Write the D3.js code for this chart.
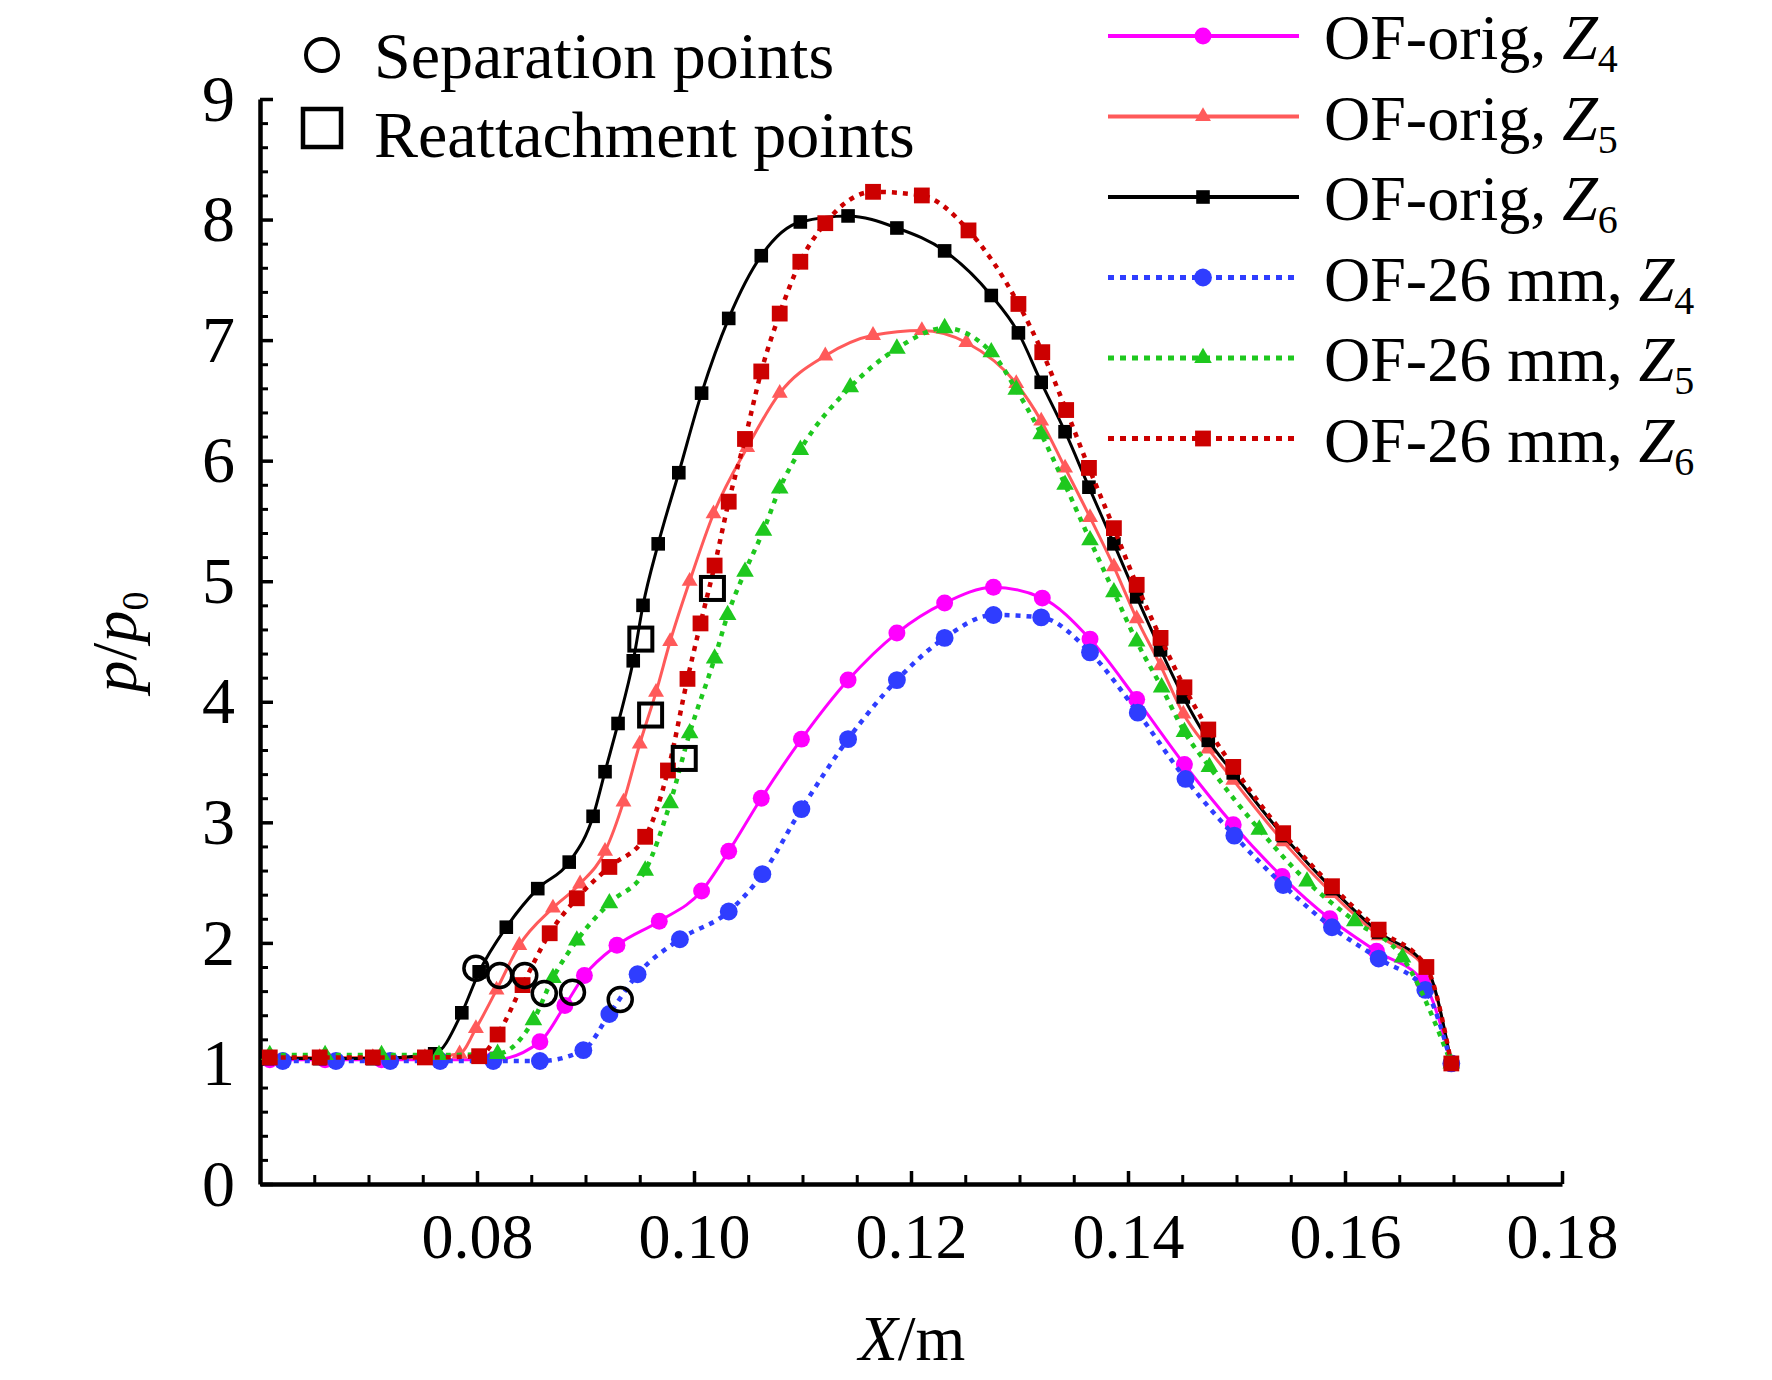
<!DOCTYPE html>
<html>
<head>
<meta charset="utf-8">
<script src="https://cdn.jsdelivr.net/npm/d3@7"></script>
<style>
  html, body { margin: 0; padding: 0; background: #fff; }
  svg { display: block; }
  text { font-family: "Liberation Serif", "Times New Roman", serif; fill: #000; }
</style>
</head>
<body>
<svg id="chart" width="1772" height="1380"></svg>
<script>
// ---------- data ----------
const xTicks = [0.08, 0.10, 0.12, 0.14, 0.16, 0.18];
const yTicks = [0, 1, 2, 3, 4, 5, 6, 7, 8, 9];

const origZ4 = [[0.0609,1.03],[0.0660,1.03],[0.0712,1.03],[0.0765,1.03],[0.0815,1.03],[0.0858,1.18],[0.0881,1.48],[0.0899,1.73],[0.0929,1.98],[0.0968,2.18],[0.1007,2.43],[0.1032,2.76],[0.1062,3.20],[0.1099,3.69],[0.1142,4.18],[0.1187,4.57],[0.1231,4.82],[0.1276,4.95],[0.1321,4.86],[0.1365,4.52],[0.1408,4.02],[0.1452,3.48],[0.1497,2.98],[0.1542,2.55],[0.1586,2.20],[0.1629,1.93],[0.1672,1.68],[0.1698,1.00]];

const origZ5 = [[0.0609,1.05],[0.0655,1.05],[0.0704,1.05],[0.0752,1.05],[0.0784,1.08],[0.0799,1.29],[0.0818,1.61],[0.0839,1.98],[0.0870,2.29],[0.0895,2.49],[0.0918,2.76],[0.0935,3.17],[0.0950,3.65],[0.0965,4.08],[0.0978,4.50],[0.0996,5.00],[0.1018,5.56],[0.1049,6.11],[0.1079,6.56],[0.1121,6.87],[0.1165,7.04],[0.1210,7.08],[0.1251,6.98],[0.1297,6.64],[0.1320,6.33],[0.1342,5.94],[0.1365,5.53],[0.1387,5.12],[0.1408,4.69],[0.1430,4.30],[0.1451,3.90],[0.1474,3.61],[0.1497,3.35],[0.1543,2.84],[0.1588,2.41],[0.1631,2.06],[0.1675,1.78],[0.1698,1.00]];

const origZ6 = [[0.0607,1.04],[0.0655,1.04],[0.0704,1.04],[0.0761,1.08],[0.0786,1.42],[0.0802,1.76],[0.0827,2.13],[0.0856,2.45],[0.0885,2.67],[0.0907,3.05],[0.0918,3.42],[0.0930,3.82],[0.0944,4.34],[0.0953,4.80],[0.0967,5.31],[0.0986,5.90],[0.1007,6.56],[0.1032,7.18],[0.1062,7.70],[0.1098,7.98],[0.1142,8.03],[0.1187,7.93],[0.1231,7.74],[0.1274,7.37],[0.1299,7.06],[0.1320,6.65],[0.1342,6.24],[0.1364,5.78],[0.1387,5.31],[0.1408,4.87],[0.1430,4.43],[0.1451,4.04],[0.1474,3.68],[0.1497,3.41],[0.1543,2.89],[0.1588,2.45],[0.1631,2.09],[0.1675,1.80],[0.1698,1.00]];

const mm26Z4 = [[0.0621,1.02],[0.0670,1.02],[0.0720,1.02],[0.0766,1.02],[0.0815,1.02],[0.0858,1.02],[0.0898,1.11],[0.0922,1.41],[0.0948,1.74],[0.0987,2.03],[0.1032,2.26],[0.1063,2.57],[0.1099,3.11],[0.1142,3.69],[0.1187,4.18],[0.1231,4.53],[0.1276,4.72],[0.1320,4.70],[0.1365,4.41],[0.1409,3.91],[0.1453,3.36],[0.1498,2.89],[0.1543,2.48],[0.1588,2.13],[0.1631,1.87],[0.1674,1.61],[0.1698,1.00]];

const mm26Z5 = [[0.0609,1.07],[0.0660,1.07],[0.0712,1.07],[0.0765,1.07],[0.0819,1.08],[0.0852,1.36],[0.0870,1.71],[0.0892,2.02],[0.0922,2.33],[0.0955,2.60],[0.0978,3.16],[0.0996,3.74],[0.1019,4.36],[0.1031,4.72],[0.1047,5.08],[0.1064,5.42],[0.1079,5.77],[0.1098,6.09],[0.1144,6.61],[0.1187,6.93],[0.1231,7.10],[0.1274,6.90],[0.1297,6.59],[0.1320,6.22],[0.1342,5.80],[0.1365,5.34],[0.1387,4.91],[0.1408,4.50],[0.1431,4.12],[0.1452,3.75],[0.1475,3.46],[0.1521,2.94],[0.1565,2.51],[0.1609,2.18],[0.1653,1.88],[0.1698,1.00]];

const mm26Z6 = [[0.0609,1.05],[0.0655,1.05],[0.0704,1.05],[0.0752,1.05],[0.0802,1.06],[0.0819,1.24],[0.0842,1.65],[0.0867,2.08],[0.0892,2.37],[0.0922,2.63],[0.0955,2.88],[0.0976,3.43],[0.0994,4.19],[0.1006,4.65],[0.1019,5.13],[0.1032,5.66],[0.1047,6.18],[0.1062,6.74],[0.1079,7.22],[0.1098,7.65],[0.1121,7.97],[0.1165,8.23],[0.1210,8.20],[0.1253,7.91],[0.1299,7.30],[0.1321,6.90],[0.1343,6.42],[0.1364,5.94],[0.1387,5.44],[0.1408,4.97],[0.1430,4.53],[0.1452,4.12],[0.1474,3.77],[0.1497,3.46],[0.1543,2.91],[0.1588,2.47],[0.1631,2.11],[0.1675,1.80],[0.1698,1.00]];

const separationPoints = [[0.0799,1.79],[0.0821,1.73],[0.0844,1.73],[0.0862,1.58],[0.0888,1.59],[0.0932,1.53]];
const reattachmentPoints = [[0.0951,4.52],[0.0960,3.89],[0.0991,3.53],[0.1017,4.94]];

const seriesNames = ["OF-orig, ", "OF-orig, ", "OF-orig, ", "OF-26 mm, ", "OF-26 mm, ", "OF-26 mm, "];
const seriesSubs = ["4", "5", "6", "4", "5", "6"];
const seriesData = [origZ4, origZ5, origZ6, mm26Z4, mm26Z5, mm26Z6];

// ---------- styles ----------
const styles = [
  {color: "#ff00ff", dash: null, width: 3, sym: d3.symbolCircle, size: 225},
  {color: "#ff5a5a", dash: null, width: 3, sym: d3.symbolTriangle, size: 110},
  {color: "#000000", dash: null, width: 3, sym: d3.symbolSquare, size: 185},
  {color: "#2f3dff", dash: "5,6", width: 4.5, sym: d3.symbolCircle, size: 250},
  {color: "#1ec81e", dash: "5,6", width: 4.5, sym: d3.symbolTriangle, size: 135},
  {color: "#cc0000", dash: "5,6", width: 4.5, sym: d3.symbolSquare, size: 250}
];

const svg = d3.select("#chart");
const x = d3.scaleLinear().domain([0.06, 0.18]).range([260, 1562]);
const y = d3.scaleLinear().domain([0, 9]).range([1184, 99]);

// ---------- axes ----------
const minorX = d3.range(0.065, 0.1801, 0.005).filter(v => Math.abs(Math.round(v * 50) - v * 50) > 1e-6);
const minorY = d3.range(0.2, 9, 0.2).filter(v => Math.abs(Math.round(v) - v) > 1e-6);

svg.append("g").attr("transform", "translate(0,1184)")
  .call(d3.axisBottom(x).tickValues(minorX).tickSizeInner(-9).tickSizeOuter(0).tickFormat(""))
  .call(g => g.select(".domain").remove())
  .call(g => g.selectAll("line").attr("stroke", "#000").attr("stroke-width", 3));

svg.append("g").attr("transform", "translate(260,0)")
  .call(d3.axisLeft(y).tickValues(minorY).tickSizeInner(-8).tickSizeOuter(0).tickFormat(""))
  .call(g => g.select(".domain").remove())
  .call(g => g.selectAll("line").attr("stroke", "#000").attr("stroke-width", 3));

const xAxis = svg.append("g").attr("transform", "translate(0,1184)")
  .call(d3.axisBottom(x).tickValues(xTicks).tickSizeInner(-13).tickSizeOuter(0).tickPadding(29).tickFormat(d3.format(".2f")));
xAxis.select(".domain").attr("stroke", "#000").attr("stroke-width", 4.5);
xAxis.selectAll("line").attr("stroke", "#000").attr("stroke-width", 3.5);
xAxis.selectAll("text").attr("font-size", 64).attr("font-family", "Liberation Serif, Times New Roman, serif").attr("fill", "#000");

const yAxis = svg.append("g").attr("transform", "translate(260,0)")
  .call(d3.axisLeft(y).tickValues(yTicks).tickSizeInner(-13).tickSizeOuter(0).tickPadding(25).tickFormat(d3.format("d")));
yAxis.select(".domain").attr("stroke", "#000").attr("stroke-width", 4.5);
yAxis.selectAll("line").attr("stroke", "#000").attr("stroke-width", 3.5);
yAxis.selectAll("text").attr("font-size", 66).attr("font-family", "Liberation Serif, Times New Roman, serif").attr("fill", "#000");

// axis titles
const xt = svg.append("text").attr("x", 912).attr("y", 1360).attr("text-anchor", "middle").attr("font-size", 64);
xt.append("tspan").attr("font-style", "italic").text("X");
xt.append("tspan").text("/m");

const yt = svg.append("text").attr("transform", "translate(136,642) rotate(-90)").attr("text-anchor", "middle").attr("font-size", 64);
yt.append("tspan").attr("font-style", "italic").text("p");
yt.append("tspan").text("/");
yt.append("tspan").attr("font-style", "italic").text("p");
yt.append("tspan").attr("font-size", 38).attr("dy", 12).text("0");

// ---------- series ----------
const line = d3.line().x(d => x(d[0])).y(d => y(d[1])).curve(d3.curveMonotoneX);
seriesData.forEach((data, i) => {
  const s = styles[i];
  const g = svg.append("g");
  g.append("path").datum(data).attr("d", line)
    .attr("fill", "none").attr("stroke", s.color).attr("stroke-width", s.width)
    .attr("stroke-dasharray", s.dash);
  g.selectAll("path.m").data(data).join("path").attr("class", "m")
    .attr("transform", d => `translate(${x(d[0])},${y(d[1])})`)
    .attr("d", d3.symbol().type(s.sym).size(s.size)())
    .attr("fill", s.color);
});

// separation / reattachment markers
svg.append("g").selectAll("circle").data(separationPoints).join("circle")
  .attr("cx", d => x(d[0])).attr("cy", d => y(d[1])).attr("r", 12)
  .attr("fill", "none").attr("stroke", "#000").attr("stroke-width", 3.5);
svg.append("g").selectAll("rect").data(reattachmentPoints).join("rect")
  .attr("x", d => x(d[0]) - 11.5).attr("y", d => y(d[1]) - 11.5).attr("width", 23).attr("height", 23)
  .attr("fill", "none").attr("stroke", "#000").attr("stroke-width", 4);

// ---------- legends ----------
const lg1 = svg.append("g");
lg1.append("circle").attr("cx", 322).attr("cy", 55).attr("r", 16)
  .attr("fill", "none").attr("stroke", "#000").attr("stroke-width", 4);
lg1.append("text").attr("x", 374).attr("y", 78).attr("font-size", 66).text("Separation points");
lg1.append("rect").attr("x", 303).attr("y", 109).attr("width", 38).attr("height", 38)
  .attr("fill", "none").attr("stroke", "#000").attr("stroke-width", 4.5);
lg1.append("text").attr("x", 374).attr("y", 157).attr("font-size", 66).text("Reattachment points");

const lg2 = svg.append("g");
seriesData.forEach((data, i) => {
  const s = styles[i];
  const ly = 36 + i * 80.5;
  lg2.append("line").attr("x1", 1108).attr("x2", 1299).attr("y1", ly).attr("y2", ly)
    .attr("stroke", s.color).attr("stroke-width", s.dash ? 5 : 4).attr("stroke-dasharray", s.dash ? "6,6" : null);
  lg2.append("path").attr("transform", `translate(1203,${ly})`)
    .attr("d", d3.symbol().type(s.sym).size(s.size)()).attr("fill", s.color);
  const t = lg2.append("text").attr("x", 1324).attr("y", ly + 23).attr("font-size", 64);
  t.append("tspan").text(seriesNames[i]);
  t.append("tspan").attr("font-style", "italic").text("Z");
  t.append("tspan").attr("font-size", 40).attr("dy", 13).text(seriesSubs[i]);
});
</script>
</body>
</html>
